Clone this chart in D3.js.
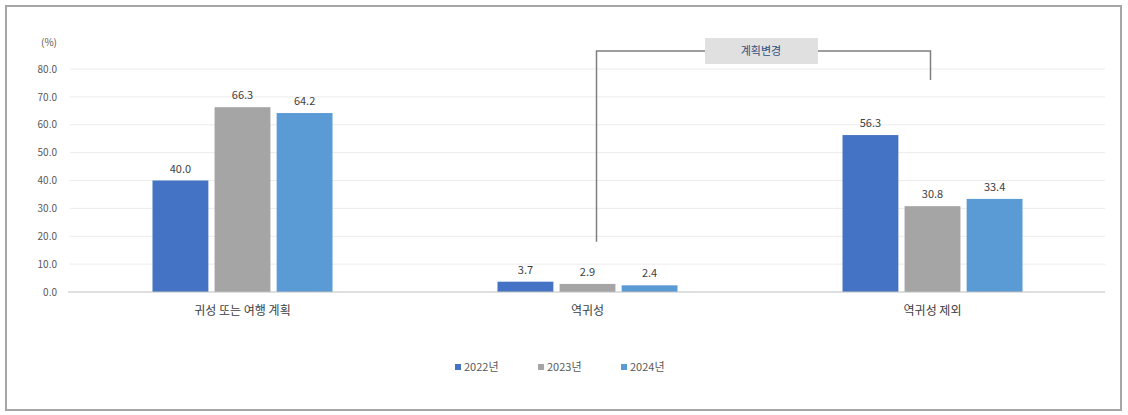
<!DOCTYPE html>
<html><head><meta charset="utf-8">
<script src="https://cdn.jsdelivr.net/npm/d3@7/dist/d3.min.js"></script>
<style>body{margin:0;background:#fff}svg{display:block}</style>
</head><body>
<svg id="c" width="1128" height="415"></svg>
<script>
const categories = ["귀성 또는 여행 계획", "역귀성", "역귀성 제외"];
const seriesNames = ["2022년", "2023년", "2024년"];
const v2022 = [40.0, 3.7, 56.3];
const v2023 = [66.3, 2.9, 30.8];
const v2024 = [64.2, 2.4, 33.4];
const yTicks = [0, 10, 20, 30, 40, 50, 60, 70, 80];
const annotationText = "계획변경";
const colors = ["#4472C4", "#A5A5A5", "#5B9BD5"];
const series = [v2022, v2023, v2024];

const svg = d3.select("#c");
const font = "'Noto Sans CJK KR','Noto Sans',sans-serif";
svg.append("rect").attr("x",6).attr("y",6).attr("width",1115).attr("height",404)
  .attr("fill","#fff").attr("stroke","#a6a6a6").attr("stroke-width",2);

const x0 = d3.scaleBand().domain(categories).range([70,1105]).padding(0);
const x1 = d3.scaleBand().domain(seriesNames).range([0,180]).paddingInner(0.1);
const y = d3.scaleLinear().domain([0,80]).range([292,69]);

// grid
svg.append("g").selectAll("line").data(yTicks.filter(d=>d>0)).join("line")
  .attr("x1",70).attr("x2",1105).attr("y1",d=>y(d)).attr("y2",d=>y(d))
  .attr("stroke","#ececec").attr("stroke-width",1);

const ya = svg.append("g").attr("transform","translate(60,0)")
  .call(d3.axisLeft(y).tickValues(yTicks).tickFormat(d3.format(".1f")).tickSize(0));
ya.select(".domain").remove();
ya.selectAll("text").attr("font-family",font).attr("font-size",10).attr("fill","#595959");
svg.append("text").attr("x",57).attr("y",46).attr("text-anchor","end")
  .attr("font-family",font).attr("font-size",10).attr("fill","#595959").text("(%)");

// bars
categories.forEach((c,i)=>{
  const g = svg.append("g").attr("transform",`translate(${x0(c)+x0.bandwidth()/2-90},0)`);
  series.forEach((s,j)=>{
    g.append("rect").attr("x",x1(seriesNames[j])).attr("y",y(s[i]))
      .attr("width",x1.bandwidth()).attr("height",y(0)-y(s[i])).attr("fill",colors[j]);
    g.append("text").attr("x",x1(seriesNames[j])+x1.bandwidth()/2).attr("y",y(s[i])-8)
      .attr("text-anchor","middle").attr("font-family",font).attr("font-size",11)
      .attr("fill","#404040").text(d3.format(".1f")(s[i]));
  });
});

// axis line
svg.append("line").attr("x1",68).attr("x2",1105).attr("y1",y(0)).attr("y2",y(0))
  .attr("stroke","#bfbfbf").attr("stroke-width",1);
svg.append("g").selectAll("text").data(categories).join("text")
  .attr("x",d=>x0(d)+x0.bandwidth()/2).attr("y",315).attr("text-anchor","middle")
  .attr("font-family",font).attr("font-size",12).attr("fill","#404040").text(d=>d);

// annotation bracket
const xa = x0(categories[1])+x0.bandwidth()/2+9;
const xb = x0(categories[2])+x0.bandwidth()/2-2;
svg.append("path").attr("d",`M${xa},${y(3.7)-40}V51H${xb}V80`)
  .attr("fill","none").attr("stroke","#7f7f7f").attr("stroke-width",1.5);
svg.append("rect").attr("x",705).attr("y",38).attr("width",113).attr("height",26)
  .attr("fill","#e0e0e0");
svg.append("text").attr("x",761).attr("y",55).attr("text-anchor","middle")
  .attr("font-family",font).attr("font-size",11).attr("fill","#2f4f7f").text(annotationText);

// legend
const lx = [455, 538, 621];
seriesNames.forEach((n,j)=>{
  svg.append("rect").attr("x",lx[j]).attr("y",364).attr("width",6).attr("height",6).attr("fill",colors[j]);
  svg.append("text").attr("x",lx[j]+9).attr("y",371).attr("font-family",font)
    .attr("font-size",11).attr("fill","#595959").text(n);
});
</script>
</body></html>
